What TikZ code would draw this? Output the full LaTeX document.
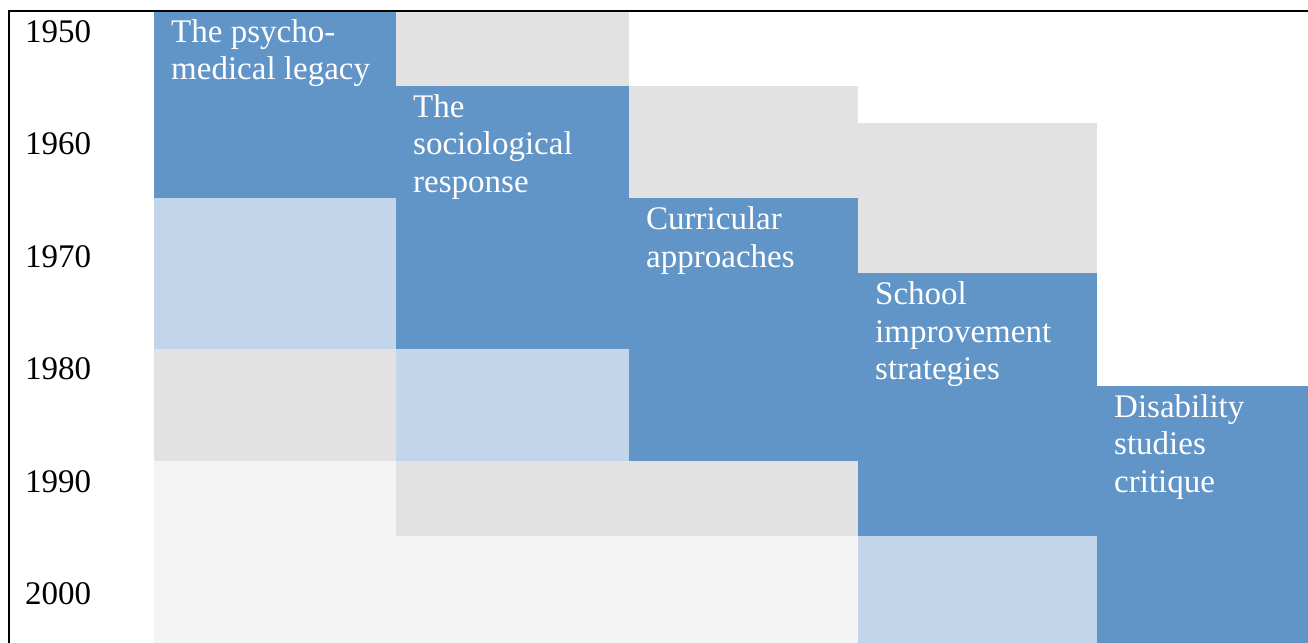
\documentclass[tikz,border=0pt]{standalone}
\usepackage{fontspec}
\setmainfont{Liberation Serif}
\definecolor{blu}{HTML}{6195C8}
\definecolor{lblu}{HTML}{C2D5EA}
\definecolor{gry}{HTML}{E2E2E2}
\definecolor{vgry}{HTML}{F4F4F4}
\begin{document}
\begin{tikzpicture}[x=1pt,y=-37.5pt,
	lbl/.style={anchor=base west,inner sep=0pt,align=left,text=white,font=\fontsize{33}{37.5}\selectfont},
	year/.style={anchor=base west,inner sep=0pt,font=\fontsize{33}{37.5}\selectfont}]
	\useasboundingbox(0,-.2933)rectangle(1308,16.853);
	% first column
	\fill[blu](154,0)rectangle(396,5);
	\fill[lblu](154,5)rectangle(396,9);
	\fill[gry](154,9)rectangle(396,12);
	\fill[vgry](154,12)rectangle(396,16.853);
	% second column
	\fill[gry](396,0)rectangle(629,2);
	\fill[blu](396,2)rectangle(629,9);
	\fill[lblu](396,9)rectangle(629,12);
	\fill[gry](396,12)rectangle(629,14);
	\fill[vgry](396,14)rectangle(629,16.853);
	% third column
	\fill[gry](629,2)rectangle(858,5);
	\fill[blu](629,5)rectangle(858,12);
	\fill[gry](629,12)rectangle(858,14);
	\fill[vgry](629,14)rectangle(858,16.853);
	% fourth column
	\fill[gry](858,3)rectangle(1097,7);
	\fill[blu](858,7)rectangle(1097,14);
	\fill[lblu](858,14)rectangle(1097,16.853);
	% fifth column
	\fill[blu](1097,10)rectangle(1308,16.853);
	% frame
	\draw[line width=2pt](9,16.853)--(9,0)--(1308,0);
	\foreach \y[count=\i] in {1950,1960,...,2000}
		\node[year](y\y)at(25,{3*\i-3+.827}){\y};
	% base anchor sits on the last line
	\node[lbl](psycho)at(171,1.827){The psycho-\\medical legacy};
	\node[lbl](socio)at(413,4.827){The\\sociological\\response};
	\node[lbl](curric)at(646,6.827){Curricular\\approaches};
	\node[lbl](school)at(875,9.827){School\\improvement\\strategies};
	\node[lbl](disab)at(1114,12.827){Disability\\studies\\critique};
\end{tikzpicture}
\end{document}
